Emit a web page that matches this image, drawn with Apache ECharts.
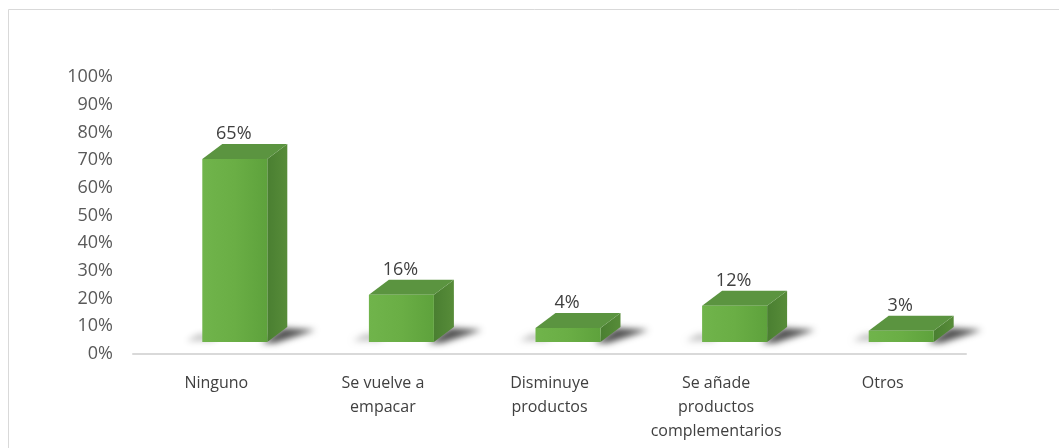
<!DOCTYPE html>
<html>
<head>
<meta charset="utf-8">
<script src="https://cdn.jsdelivr.net/npm/echarts@6/dist/echarts.min.js"></script>
<style>
  html, body { margin: 0; padding: 0; background: #fff; }
  #chart { width: 1059px; height: 448px; }
</style>
</head>
<body>
<div id="chart"></div>
<script>
// Survey answers and their shares
const categories = ['Ninguno', 'Se vuelve a\nempacar', 'Disminuye\nproductos', 'Se añade\nproductos\ncomplementarios', 'Otros'];
const values = [0.65, 0.16, 0.04, 0.12, 0.03];
const yTicks = [0, 0.1, 0.2, 0.3, 0.4, 0.5, 0.6, 0.7, 0.8, 0.9, 1];

const FONT = '"Open Sans", "Liberation Sans", sans-serif';

// Box geometry for the 3D-looking columns
const FRONT_OFFSET = -14;   // front face left edge relative to category centre
const FRONT_WIDTH = 65;
const DEPTH_X = 20;
const DEPTH_Y = -15;
const BASE_LIFT = 12;       // floor sits a little above the axis line
const TOP_LIFT = 15;

function renderBox(params, api) {
  const i = api.value(0);
  const v = api.value(1);
  const base = api.coord([i, 0]);
  const top = api.coord([i, v]);
  const x0 = base[0] + FRONT_OFFSET;
  const x1 = x0 + FRONT_WIDTH;
  const yb = base[1] - BASE_LIFT;
  const yt = top[1] - TOP_LIFT;
  const dx = DEPTH_X, dy = DEPTH_Y;

  const shadowShift = 3000;
  return {
    type: 'group',
    children: [
      // faint shadow on the left of the base
      {
        type: 'polygon',
        shape: { points: [[x0 - 16 - shadowShift, yb - 1], [x0 + 10 - shadowShift, yb - 1], [x0 + 20 - shadowShift, yb - 8], [x0 - 4 - shadowShift, yb - 8]] },
        style: {
          fill: 'rgba(0,0,0,0.5)',
          shadowColor: 'rgba(0,0,0,0.45)',
          shadowBlur: 6,
          shadowOffsetX: shadowShift
        },
        silent: true
      },
      // darker shadow trailing off to the right
      {
        type: 'polygon',
        shape: { points: [[x1 - 6 - shadowShift, yb + 1], [x1 + 8 - shadowShift, yb + 1], [x1 + dx + 28 - shadowShift, yb + dy + 3], [x1 + dx - 4 - shadowShift, yb + dy + 1]] },
        style: {
          fill: 'rgba(0,0,0,0.85)',
          shadowColor: 'rgba(0,0,0,0.8)',
          shadowBlur: 6,
          shadowOffsetX: shadowShift
        },
        silent: true
      },
      // right side face
      {
        type: 'polygon',
        shape: { points: [[x1, yb], [x1 + dx, yb + dy], [x1 + dx, yt + dy], [x1, yt]] },
        style: {
          fill: new echarts.graphic.LinearGradient(0, 0, 1, 0, [
            { offset: 0, color: '#4a7f31' },
            { offset: 1, color: '#578c39' }
          ])
        }
      },
      // top face
      {
        type: 'polygon',
        shape: { points: [[x0, yt], [x1, yt], [x1 + dx, yt + dy], [x0 + dx, yt + dy]] },
        style: { fill: '#5b9440' }
      },
      // front face
      {
        type: 'rect',
        shape: { x: x0, y: yt, width: x1 - x0, height: yb - yt },
        style: {
          fill: new echarts.graphic.LinearGradient(0, 0, 1, 0, [
            { offset: 0, color: '#70b44b' },
            { offset: 0.5, color: '#6aae45' },
            { offset: 1, color: '#5ea23c' }
          ])
        }
      },
      // value label
      {
        type: 'text',
        style: {
          text: Math.round(v * 100) + '%',
          x: (x0 + x1) / 2 - 1,
          y: yt + dy - 1,
          align: 'center',
          verticalAlign: 'bottom',
          fill: '#404040',
          font: '18px ' + FONT
        }
      }
    ]
  };
}

const chart = echarts.init(document.getElementById('chart'), null, { renderer: 'canvas' });

chart.setOption({
  animation: false,
  backgroundColor: '#ffffff',
  graphic: [
    {
      type: 'rect',
      shape: { x: 8.5, y: 9.5, width: 1200, height: 600 },
      style: { fill: 'none', stroke: '#d9d9d9', lineWidth: 1 },
      silent: true,
      z: -10
    }
  ],
  grid: { left: 133, right: 93, top: 77, bottom: 94 },
  xAxis: {
    type: 'category',
    data: categories,
    axisLine: { lineStyle: { color: '#d9d9d9', width: 2 } },
    axisTick: { show: false },
    axisLabel: {
      interval: 0,
      margin: 17,
      color: '#404040',
      fontFamily: FONT,
      fontSize: 16,
      lineHeight: 24
    }
  },
  yAxis: {
    type: 'value',
    min: 0,
    max: 1,
    interval: 0.1,
    axisLine: { show: false },
    axisTick: { show: false },
    splitLine: { show: false },
    axisLabel: {
      margin: 20,
      color: '#595959',
      fontFamily: FONT,
      fontSize: 18,
      formatter: function (val) {
        const hit = yTicks.find(t => Math.abs(t - val) < 1e-9);
        return Math.round((hit !== undefined ? hit : val) * 100) + '%';
      }
    }
  },
  series: [
    {
      type: 'custom',
      renderItem: renderBox,
      clip: false,
      data: values.map((v, i) => [i, v])
    }
  ]
});
</script>
</body>
</html>
